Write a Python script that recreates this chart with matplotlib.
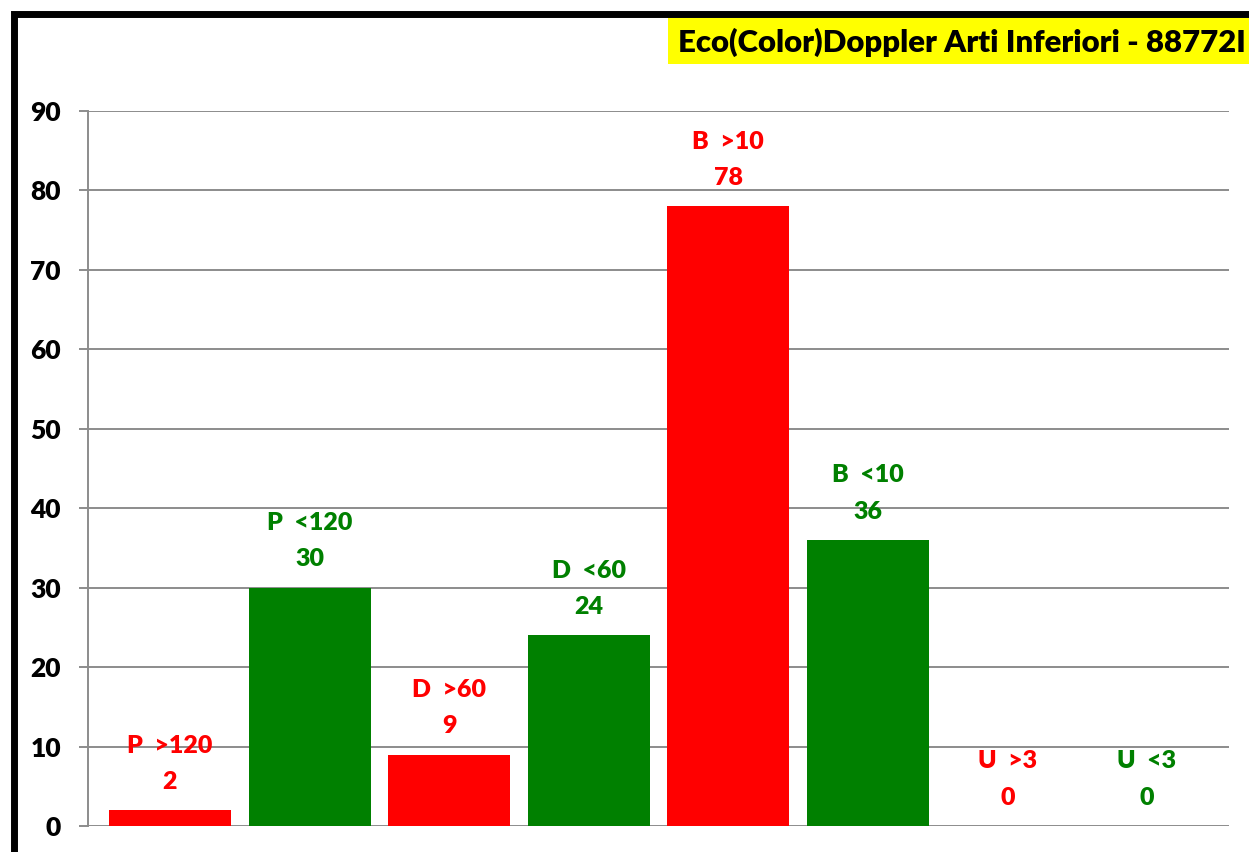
import matplotlib
matplotlib.use("Agg")
import matplotlib.pyplot as plt
from matplotlib.patches import Rectangle

plt.rcParams['font.family'] = ['Lato', 'DejaVu Sans']
plt.rcParams['font.weight'] = 'bold'

# data
names = ["P  >120", "P  <120", "D  >60", "D  <60", "B  >10", "B  <10", "U  >3", "U  <3"]
values = [2, 30, 9, 24, 78, 36, 0, 0]
colors = ["#ff0000", "#008000"] * 4
title = "Eco(Color)Doppler Arti Inferiori - 88772I"

W, H = 1249, 852
fig = plt.figure(figsize=(W / 100, H / 100), dpi=100)

# black frame around chart area
fig.patches.append(Rectangle((14 / W, -0.1), 1.2, 1 - 14 / H + 0.1, transform=fig.transFigure,
                             fill=False, ec="black", lw=5, zorder=0))

# yellow title box
fig.patches.append(Rectangle((668 / W, 1 - 64 / H), 1.0, 46 / H, transform=fig.transFigure,
                             fc="#ffff00", ec="none", zorder=1))
fig.text(678 / W, 1 - 42 / H, title, fontsize=22.4, fontweight='heavy', va='center', ha='left', zorder=2)

ax = fig.add_axes([88 / W, 1 - 826 / H, (1229 - 88) / W, (826 - 111) / H])
x = list(range(len(values)))
ax.bar(x, values, width=0.874, color=colors, zorder=3)

for i, v in enumerate(values):
    ax.annotate(str(v), (i, v), xytext=(0, 20.5), textcoords='offset points',
                ha='center', va='center', color=colors[i], fontsize=18, fontweight='heavy')
    ax.annotate(names[i], (i, v), xytext=(0, 46.5), textcoords='offset points',
                ha='center', va='center', color=colors[i], fontsize=18, fontweight='heavy')

ax.set_xlim(-0.5875, 7.5875)
ax.set_ylim(0, 90)
ax.set_yticks(range(0, 91, 10))
ax.yaxis.grid(True, color="#8c8c8c", lw=1.4, zorder=0)
ax.set_xticks([])
for s in ["top", "right", "bottom"]:
    ax.spines[s].set_visible(False)
ax.spines["left"].set_color("#8c8c8c")
ax.spines["left"].set_linewidth(1.4)
ax.tick_params(axis='y', length=6.5, width=1.4, color="#8c8c8c", labelsize=19, pad=13)
for lab in ax.get_yticklabels():
    lab.set_fontweight('heavy')
ax.set_facecolor("none")

fig.savefig("out.png", dpi=100)
